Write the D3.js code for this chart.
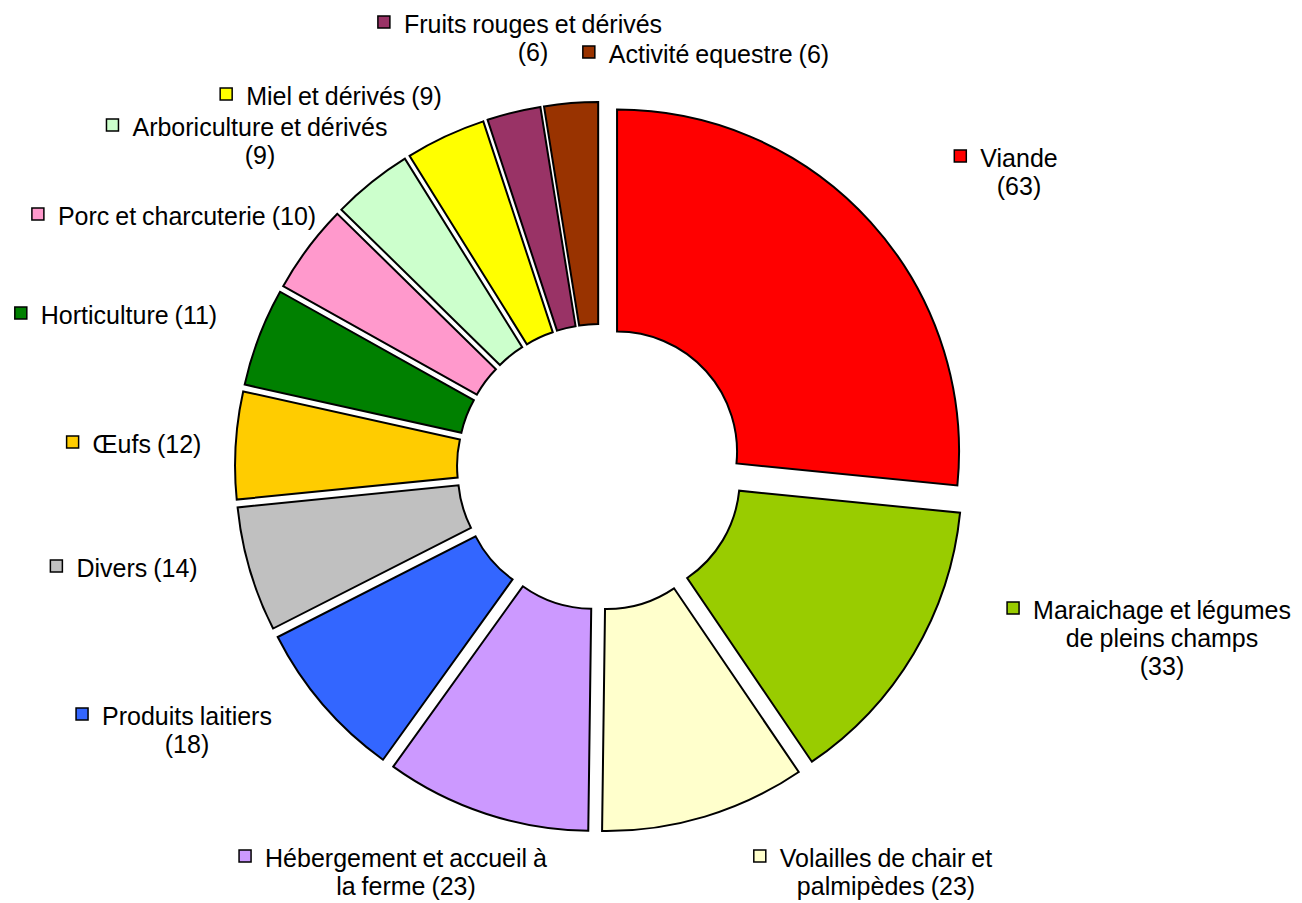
<!DOCTYPE html>
<html>
<head>
<meta charset="utf-8">
<script src="https://cdn.jsdelivr.net/npm/d3@7"></script>
<style>
  body { margin: 0; background: #fff; }
  svg text { font-family: "Liberation Sans", Arial, sans-serif; fill: #000; }
</style>
</head>
<body>
<svg width="1302" height="903"></svg>
<script>
// data ("\n" = where the label wraps)
var categories = [
  "Viande",
  "Maraichage et légumes\nde pleins champs",
  "Volailles de chair et\npalmipèdes",
  "Hébergement et accueil à\nla ferme",
  "Produits laitiers",
  "Divers",
  "Œufs",
  "Horticulture",
  "Porc et charcuterie",
  "Arboriculture et dérivés",
  "Miel et dérivés",
  "Fruits rouges et dérivés",
  "Activité equestre"
];
var values = [63, 33, 23, 23, 18, 14, 12, 11, 10, 9, 9, 6, 6];
var colors = ["#ff0000", "#99cc00", "#ffffcc", "#cc99ff", "#3366ff", "#c0c0c0",
              "#ffcc00", "#008000", "#ff99cc", "#ccffcc", "#ffff00", "#993366", "#993300"];

// label placement: text centre x, first baseline, value on its own line
var labelPos = [
  [1019, 167, true],
  [1162, 619, true],
  [886, 867, false],
  [406, 867, false],
  [187, 725, true],
  [137, 577, false],
  [147, 453, false],
  [129, 324, false],
  [187, 225, false],
  [260, 136, true],
  [344, 105, false],
  [533, 33, true],
  [719, 63, false]
];

var svg = d3.select("svg"),
    cx = 600, cy = 467,
    rIn = 120, rOut = 342,
    explode = 23,
    lineH = 28,
    fontSize = 25;

var data = categories.map(function(c, i) {
  return {name: c, value: values[i], color: colors[i], pos: labelPos[i]};
});

var pie = d3.pie()
    .sort(null)
    .value(function(d) { return d.value; });

var arc = d3.arc()
    .innerRadius(rIn)
    .outerRadius(rOut);

var g = svg.append("g")
    .attr("transform", "translate(" + cx + "," + cy + ")");

g.selectAll(".slice")
  .data(pie(data))
  .enter().append("path")
    .attr("class", "slice")
    .attr("d", arc)
    .attr("fill", function(d) { return d.data.color; })
    .attr("stroke", "#000")
    .attr("stroke-width", 2)
    .attr("stroke-linejoin", "miter")
    .attr("transform", function(d) {
      var a = (d.startAngle + d.endAngle) / 2;
      return "translate(" + (explode * Math.sin(a)) + "," + (-explode * Math.cos(a)) + ")";
    });

// labels with legend key
data.forEach(function(d) {
  var parts = d.name.split("\n");
  var val = "(" + d.value + ")";
  if (d.pos[2]) parts.push(val);
  else parts[parts.length - 1] += " " + val;

  var lab = svg.append("g").attr("class", "label");
  var t = lab.append("text")
      .attr("text-anchor", "middle")
      .style("font-size", fontSize + "px")
      .style("word-spacing", "-1px");
  parts.forEach(function(p, k) {
    t.append("tspan")
      .attr("x", d.pos[0])
      .attr("y", d.pos[1] + k * lineH)
      .text(p);
  });

  var w = t.select("tspan").node().getComputedTextLength();
  lab.append("rect")
      .attr("x", d.pos[0] - w / 2 - 26)
      .attr("y", d.pos[1] - 17)
      .attr("width", 12)
      .attr("height", 12)
      .attr("fill", d.color)
      .attr("stroke", "#000")
      .attr("stroke-width", 1.5);
});
</script>
</body>
</html>
